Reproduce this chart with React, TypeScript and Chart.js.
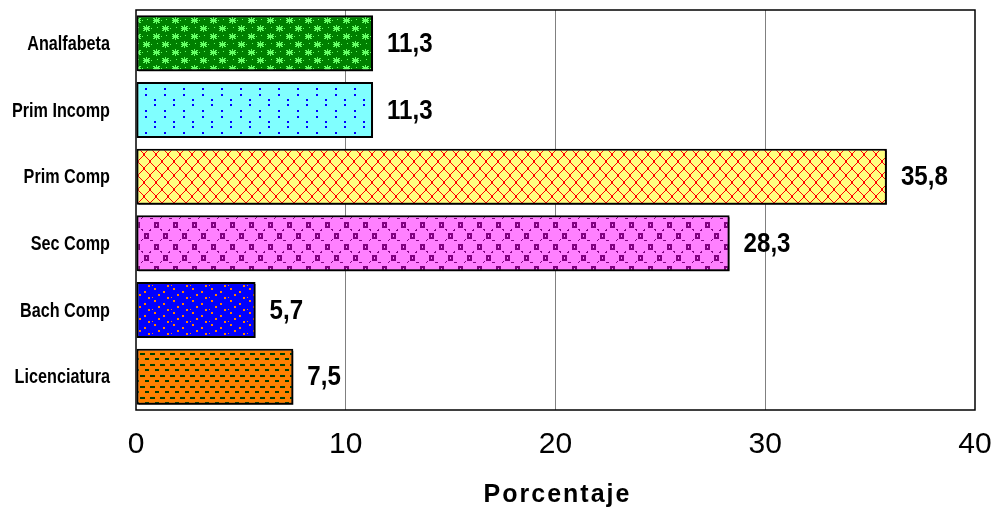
import React, { useEffect, useRef } from "react";
import { Chart, registerables } from "chart.js";

Chart.register(...registerables);

const categories = ["Analfabeta", "Prim Incomp", "Prim Comp", "Sec Comp", "Bach Comp", "Licenciatura"];
const values = [11.3, 11.3, 35.8, 28.3, 5.7, 7.5];
const valueLabels = ["11,3", "11,3", "35,8", "28,3", "5,7", "7,5"];
const xTicks = [0, 10, 20, 30, 40];
const axisTitle = "Porcentaje";

type Px = [number, number, number, number];

function makePattern(w: number, h: number, bg: string, fg: string, px: Px[]): CanvasPattern | string {
  const c = document.createElement("canvas");
  c.width = w;
  c.height = h;
  const g = c.getContext("2d");
  if (!g) return bg;
  g.fillStyle = bg;
  g.fillRect(0, 0, w, h);
  g.fillStyle = fg;
  for (const [x, y, pw, ph] of px) g.fillRect(x, y, pw, ph);
  const ctx = document.createElement("canvas").getContext("2d")!;
  return ctx.createPattern(c, "repeat") || bg;
}

function star(x: number, y: number): Px[] {
  return [
    [x + 3, y, 1, 2], [x, y + 1, 2, 1], [x + 5, y + 1, 2, 1],
    [x + 1, y + 2, 5, 3], [x, y + 3, 7, 1],
    [x, y + 5, 2, 1], [x + 5, y + 5, 2, 1], [x + 3, y + 5, 1, 2],
  ];
}

function buildPatterns() {
  // Analfabeta: dark green with light green stars
  const p1 = makePattern(19, 16, "#008000", "#66ff66", [
    ...star(1, 1), ...star(10, 9), [9, 4, 1, 1], [18, 12, 1, 1], [14, 3, 1, 1], [5, 11, 1, 1],
  ]);
  // Prim Incomp: cyan with blue dots
  const p2 = makePattern(19, 22, "#80ffff", "#0000ff", [
    [12, 0, 2, 2], [12, 6, 2, 2], [2, 11, 2, 2], [2, 16, 2, 2],
  ]);
  // Prim Comp: yellow with red diamond lattice
  const p3px: Px[] = [];
  const W3 = 12, H3 = 14;
  for (let i = 0; i < H3; i++) {
    const a = Math.floor((i / H3) * W3);
    p3px.push([a, i, 1, 1]);
    p3px.push([W3 - 1 - a, i, 1, 1]);
  }
  const p3 = makePattern(W3, H3, "#ffff80", "#ff0000", p3px);
  // Sec Comp: pink with purple hollow squares
  const sq = (x: number, y: number): Px[] => [
    [x, y, 5, 2], [x, y + 4, 5, 2], [x, y, 2, 6], [x + 3, y, 2, 6],
  ];
  const p4 = makePattern(19, 22, "#ff80ff", "#800080", [
    ...sq(2, 2), ...sq(11, 13),
    [8, 9, 2, 1], [9, 10, 1, 1], [17, 20, 2, 1], [0, 20, 1, 1], [17, 9, 1, 1], [16, 10, 2, 1],
    [8, 20, 1, 1], [9, 19, 1, 1],
  ]);
  // Bach Comp: blue with orange dots
  const p5 = makePattern(19, 12, "#0000ff", "#ff8000", [
    [2, 0, 2, 2], [11, 3, 2, 2], [6, 6, 2, 2], [15, 9, 2, 2], [0, 9, 1, 1],
  ]);
  // Licenciatura: orange with dark green dashes
  const p6 = makePattern(10, 11, "#ff8000", "#004000", [
    [0, 1, 5, 2], [5, 6, 4, 2],
  ]);
  return [p1, p2, p3, p4, p5, p6];
}

function squeezedText(ctx: CanvasRenderingContext2D, text: string, x: number, y: number, sx: number) {
  ctx.save();
  ctx.translate(x, y);
  ctx.scale(sx, 1);
  ctx.fillText(text, 0, 0);
  ctx.restore();
}

export default function App() {
  const ref = useRef<HTMLCanvasElement | null>(null);

  useEffect(() => {
    document.body.style.margin = "0";
    const canvas = ref.current;
    if (!canvas) return;
    const patterns = buildPatterns();

    const framePlugin = {
      id: "frameAndLabels",
      beforeDatasetsDraw(chart: any) {
        const { ctx, chartArea } = chart;
        ctx.save();
        ctx.strokeStyle = "#000000";
        ctx.lineWidth = 1.5;
        ctx.strokeRect(chartArea.left, chartArea.top, chartArea.right - chartArea.left, chartArea.bottom - chartArea.top);
        ctx.restore();
        ctx.save();
        ctx.shadowColor = "rgba(0,0,0,0.75)";
        ctx.shadowOffsetX = 2;
        ctx.shadowOffsetY = 2;
        ctx.shadowBlur = 0;
      },
      afterDatasetsDraw(chart: any) {
        const { ctx } = chart;
        ctx.restore();
        const meta = chart.getDatasetMeta(0);
        ctx.save();
        ctx.fillStyle = "#000000";
        ctx.font = "bold 28px 'Liberation Sans', Arial, sans-serif";
        ctx.textAlign = "left";
        ctx.textBaseline = "middle";
        meta.data.forEach((el: any, i: number) => {
          squeezedText(ctx, valueLabels[i], el.x + 14, el.y + 1, 0.86);
        });
        ctx.restore();
      },
      afterDraw(chart: any) {
        const { ctx, chartArea } = chart;
        const yScale = chart.scales.y;
        ctx.save();
        ctx.fillStyle = "#000000";
        ctx.font = "bold 20px 'Liberation Sans', Arial, sans-serif";
        ctx.textAlign = "right";
        ctx.textBaseline = "middle";
        categories.forEach((c, i) => {
          squeezedText(ctx, c, chartArea.left - 26, yScale.getPixelForValue(i) + 1, 0.81);
        });
        ctx.font = "bold 25px 'Liberation Sans', Arial, sans-serif";
        (ctx as any).letterSpacing = "2px";
        ctx.textAlign = "center";
        ctx.textBaseline = "alphabetic";
        ctx.fillText(axisTitle, (chartArea.left + chartArea.right) / 2 + 2, chartArea.bottom + 92);
        ctx.restore();
      },
    };

    const chart = new Chart(canvas, {
      type: "bar",
      data: {
        labels: categories,
        datasets: [
          {
            data: values,
            backgroundColor: patterns as any,
            borderColor: "#000000",
            borderWidth: 2,
            borderSkipped: false,
            categoryPercentage: 0.84,
            barPercentage: 1,
          },
        ],
      },
      options: {
        indexAxis: "y",
        responsive: false,
        animation: false,
        events: [],
        layout: { padding: { top: 10, right: 20, left: 0, bottom: 0 } },
        plugins: { legend: { display: false }, tooltip: { enabled: false } },
        scales: {
          x: {
            min: 0,
            max: 40,
            afterFit: (s: any) => {
              s.height = 106;
              s.paddingLeft = 0;
              s.paddingRight = 0;
              s.paddingTop = 0;
              s.paddingBottom = 0;
            },
            afterBuildTicks: (s: any) => { s.ticks = xTicks.map((v) => ({ value: v })); },
            border: { display: false },
            grid: {
              drawTicks: false,
              color: (c: any) => (c.tick && (c.tick.value === 0 || c.tick.value === 40) ? "rgba(0,0,0,0)" : "#808080"),
              lineWidth: 1,
            },
            ticks: {
              padding: 17,
              color: "#000000",
              font: { family: "'Liberation Sans', Arial, sans-serif", size: 30 },
              maxRotation: 0,
            },
          },
          y: {
            afterFit: (s: any) => {
              s.width = 136;
              s.paddingLeft = 0;
              s.paddingRight = 0;
              s.paddingTop = 0;
              s.paddingBottom = 0;
            },
            border: { display: false },
            grid: { display: false, drawTicks: false },
            ticks: { display: false },
          },
        },
      },
      plugins: [framePlugin],
    });
    return () => chart.destroy();
  }, []);

  return (
    <div style={{ width: 995, height: 516 }}>
      <canvas ref={ref} width={995} height={516} style={{ display: "block" }} />
    </div>
  );
}
